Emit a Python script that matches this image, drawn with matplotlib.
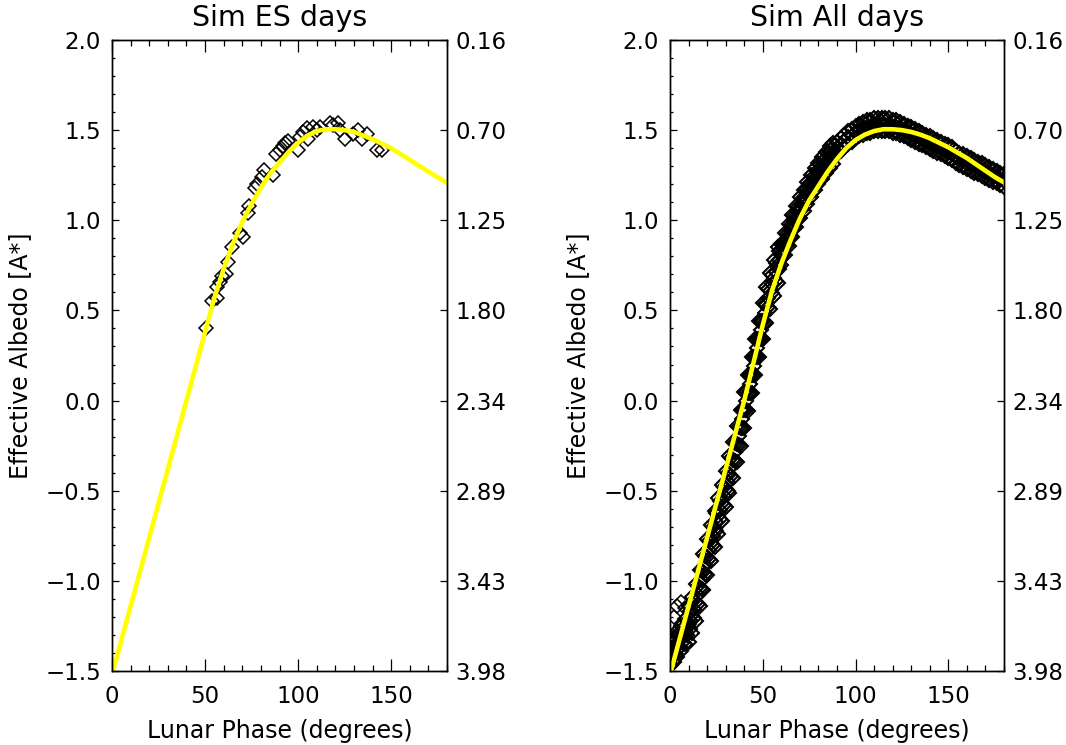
import matplotlib
matplotlib.use('Agg')
import matplotlib.pyplot as plt
from matplotlib.ticker import MultipleLocator

# ---- data ----
# left panel: Earthshine days (diamonds) + fitted curve (yellow)
es_phase = [50.5, 53.5, 56.3, 56.6, 58.0, 59.3, 61.3, 62.5, 64.3, 68.8, 70.2,
            73.3, 73.8, 76.8, 78.1, 80.4, 81.7, 86.7, 88.1, 90.3, 91.7, 93.0,
            94.7, 100.1, 101.0, 102.8, 104.6, 105.5, 108.2, 110.0, 111.8,
            117.1, 118.9, 121.6, 122.5, 125.2, 129.7, 132.4, 134.2, 136.9,
            142.2, 145.0]
es_albedo = [0.40, 0.55, 0.57, 0.63, 0.66, 0.69, 0.70, 0.77, 0.85, 0.93, 0.91,
             1.04, 1.08, 1.18, 1.20, 1.24, 1.28, 1.25, 1.37, 1.39, 1.41, 1.43,
             1.44, 1.39, 1.46, 1.49, 1.51, 1.45, 1.52, 1.50, 1.52,
             1.54, 1.53, 1.54, 1.50, 1.45, 1.48, 1.50, 1.45, 1.48,
             1.39, 1.39]

es_fit_phase = [0, 50, 55, 60, 65, 70, 75, 80, 85, 90, 95, 100, 105, 110, 115,
                120, 125, 130, 135, 140, 145, 150, 160, 170, 180]
es_fit_albedo = [-1.52, 0.38, 0.57, 0.73, 0.87, 0.99, 1.09, 1.18, 1.26, 1.32,
                 1.38, 1.43, 1.47, 1.495, 1.505, 1.505, 1.50, 1.49, 1.47, 1.45,
                 1.425, 1.40, 1.335, 1.27, 1.207]

# right panel: all simulated days, a dense band (upper / middle / lower edge)
all_phase = [0, 2, 4, 6, 8, 10, 12, 14, 16, 18, 20, 22, 24, 26, 28, 30, 32, 34,
             36, 38, 40, 42, 44, 46, 48, 50, 52, 54, 56, 58, 60, 62, 64, 66, 68,
             70, 72, 74, 76, 78, 80, 82, 84, 86, 88, 90, 92, 94, 96, 98, 100,
             102, 104, 106, 108, 110, 112, 114, 116, 118, 120, 122, 124, 126,
             128, 130, 132, 134, 136, 138, 140, 142, 144, 146, 148, 150, 152,
             154, 156, 158, 160, 162, 164, 166, 168, 170, 172, 174, 176, 178, 180]
all_mid = [-1.40, -1.38, -1.35, -1.32, -1.28, -1.24, -1.19, -1.12, -1.04, -0.95,
           -0.87, -0.79, -0.71, -0.64, -0.57, -0.49, -0.41, -0.33, -0.24, -0.15,
           -0.05, 0.04, 0.14, 0.24, 0.34, 0.44, 0.53, 0.61, 0.68, 0.75, 0.81,
           0.87, 0.92, 0.97, 1.02, 1.07, 1.11, 1.15, 1.19, 1.23, 1.26, 1.29,
           1.32, 1.35, 1.37, 1.40, 1.42, 1.44, 1.46, 1.47, 1.49, 1.50, 1.51,
           1.52, 1.52, 1.53, 1.53, 1.53, 1.53, 1.53, 1.52, 1.52, 1.51, 1.50,
           1.49, 1.48, 1.47, 1.46, 1.45, 1.44, 1.43, 1.42, 1.41, 1.40, 1.39,
           1.38, 1.37, 1.35, 1.34, 1.33, 1.32, 1.31, 1.30, 1.29, 1.28, 1.27,
           1.26, 1.25, 1.24, 1.23, 1.22]
all_hi = [-1.33, -1.31, -1.28, -1.25, -1.21, -1.14, -1.09, -1.02, -0.94, -0.85,
          -0.77, -0.69, -0.61, -0.54, -0.47, -0.39, -0.31, -0.23, -0.14, -0.05,
          0.05, 0.14, 0.24, 0.34, 0.44, 0.54, 0.63, 0.71, 0.78, 0.85, 0.87,
          0.93, 0.98, 1.03, 1.08, 1.13, 1.17, 1.21, 1.25, 1.29, 1.32, 1.35,
          1.38, 1.41, 1.43, 1.435, 1.455, 1.475, 1.495, 1.505, 1.525, 1.535,
          1.545, 1.555, 1.555, 1.565, 1.565, 1.565, 1.565, 1.565, 1.555, 1.555,
          1.545, 1.535, 1.525, 1.515, 1.505, 1.495, 1.485, 1.475, 1.465, 1.455,
          1.445, 1.435, 1.425, 1.415, 1.405, 1.385, 1.375, 1.365, 1.355, 1.345,
          1.335, 1.325, 1.315, 1.305, 1.295, 1.285, 1.275, 1.265, 1.255]
all_lo = [-1.47, -1.45, -1.42, -1.39, -1.35, -1.34, -1.29, -1.22, -1.14, -1.05,
          -0.97, -0.89, -0.81, -0.74, -0.67, -0.59, -0.51, -0.43, -0.34, -0.25,
          -0.15, -0.06, 0.04, 0.14, 0.24, 0.34, 0.43, 0.51, 0.58, 0.65, 0.75,
          0.81, 0.86, 0.91, 0.96, 1.01, 1.05, 1.09, 1.13, 1.17, 1.20, 1.23,
          1.26, 1.29, 1.31, 1.365, 1.385, 1.405, 1.425, 1.435, 1.455, 1.465,
          1.475, 1.485, 1.485, 1.495, 1.495, 1.495, 1.495, 1.495, 1.485, 1.485,
          1.475, 1.465, 1.455, 1.445, 1.435, 1.425, 1.415, 1.405, 1.395, 1.385,
          1.375, 1.365, 1.355, 1.345, 1.335, 1.315, 1.305, 1.295, 1.285, 1.275,
          1.265, 1.255, 1.245, 1.235, 1.225, 1.215, 1.205, 1.195, 1.185]

# the steep rising part is sampled at the odd phases as well
odd_phase = [1, 3, 5, 7, 9, 11, 13, 15, 17, 19, 21, 23, 25, 27, 29, 31, 33, 35,
             37, 39, 41, 43, 45, 47, 49, 51, 53, 55, 57, 59, 61, 63, 65, 67, 69,
             71, 73, 75, 77, 79, 81, 83, 85, 87, 89]
odd_mid = [-1.39, -1.365, -1.335, -1.30, -1.26, -1.215, -1.155, -1.08, -0.995,
           -0.91, -0.83, -0.75, -0.675, -0.605, -0.53, -0.45, -0.37, -0.285,
           -0.195, -0.10, -0.005, 0.09, 0.19, 0.29, 0.39, 0.485, 0.57, 0.645,
           0.715, 0.78, 0.84, 0.895, 0.945, 0.995, 1.045, 1.09, 1.13, 1.17,
           1.21, 1.245, 1.275, 1.305, 1.335, 1.36, 1.385]
odd_hi = [-1.35, -1.325, -1.295, -1.26, -1.22, -1.165, -1.105, -1.03, -0.945,
          -0.86, -0.78, -0.70, -0.625, -0.555, -0.48, -0.40, -0.32, -0.235,
          -0.145, -0.05, 0.045, 0.14, 0.24, 0.34, 0.44, 0.535, 0.62, 0.695,
          0.765, 0.83, 0.87, 0.925, 0.975, 1.025, 1.075, 1.12, 1.16, 1.20,
          1.24, 1.275, 1.305, 1.335, 1.365, 1.39, 1.415]
odd_lo = [-1.43, -1.405, -1.375, -1.34, -1.30, -1.265, -1.205, -1.13, -1.045,
          -0.96, -0.88, -0.80, -0.725, -0.655, -0.58, -0.50, -0.42, -0.335,
          -0.245, -0.15, -0.055, 0.04, 0.14, 0.24, 0.34, 0.435, 0.52, 0.595,
          0.665, 0.73, 0.81, 0.865, 0.915, 0.965, 1.015, 1.06, 1.10, 1.14,
          1.18, 1.215, 1.245, 1.275, 1.305, 1.33, 1.355]

# a few stray points near new moon
stray_phase = [2, 4, 6, 8]
stray_albedo = [-1.20, -1.14, -1.12, -1.15]

all_fit_phase = [0, 10, 20, 30, 35, 40, 45, 50, 55, 60, 65, 70, 75, 80, 85, 90,
                 95, 100, 105, 110, 115, 120, 125, 130, 135, 140, 145, 150, 155,
                 160, 165, 170, 175, 180]
all_fit_albedo = [-1.52, -1.14, -0.76, -0.38, -0.19, 0.0, 0.21, 0.42, 0.61, 0.76,
                  0.89, 1.01, 1.11, 1.19, 1.27, 1.34, 1.40, 1.445, 1.475, 1.495,
                  1.505, 1.505, 1.50, 1.49, 1.475, 1.455, 1.43, 1.405, 1.375,
                  1.345, 1.31, 1.275, 1.24, 1.21]

# right-hand axis labels (same positions as the left major ticks)
left_ticks = [-1.5, -1.0, -0.5, 0.0, 0.5, 1.0, 1.5, 2.0]
right_labels = ['3.98', '3.43', '2.89', '2.34', '1.80', '1.25', '0.70', '0.16']

titles = ['Sim ES days', 'Sim All days']

plt.rcParams['font.family'] = ['DejaVu Sans']
FS = 16.5

fig = plt.figure(figsize=(10.66, 7.45), dpi=100)
ax1 = fig.add_axes([112/1066, 1-671/745, 335/1066, 631/745])
ax2 = fig.add_axes([670/1066, 1-671/745, 334/1066, 631/745])

mk = dict(marker='D', ms=7, mfc='none', mec='black', mew=1.1, ls='none')
mk_dense = dict(mk, mew=1.5)

ax1.plot(es_phase, es_albedo, **mk)
ax1.plot(es_fit_phase, es_fit_albedo, color='yellow', lw=3.3)

for a in (all_hi, all_lo, all_mid):
    ax2.plot(all_phase, a, **mk_dense)
for a in (odd_hi, odd_lo, odd_mid):
    ax2.plot(odd_phase, a, **mk_dense)
ax2.plot(stray_phase, stray_albedo, **mk)
ax2.plot(all_fit_phase, all_fit_albedo, color='yellow', lw=3.3)

for ax, t in zip((ax1, ax2), titles):
    ax.set_xlim(0, 180)
    ax.set_ylim(-1.5, 2.0)
    ax.xaxis.set_major_locator(MultipleLocator(50))
    ax.xaxis.set_minor_locator(MultipleLocator(10))
    ax.set_yticks(left_ticks)
    ax.set_yticklabels([('%.1f' % v).replace('-', '\u2212') for v in left_ticks])
    ax.yaxis.set_minor_locator(MultipleLocator(0.1))
    ax.tick_params(axis='x', which='major', direction='in', length=8.6, width=0.9,
                   top=True, labelsize=FS, pad=10)
    ax.tick_params(axis='x', which='minor', direction='in', length=4.3, width=0.9, top=True)
    ax.tick_params(axis='y', which='major', direction='in', length=4.8, width=0.9,
                   right=False, labelsize=FS, pad=8)
    ax.tick_params(axis='y', which='minor', direction='in', length=2.4, width=0.9, right=False)
    for s in ax.spines.values():
        s.set_linewidth(1.0)
    ax.set_title(t, fontsize=20.5, pad=10)
    ax.set_xlabel('Lunar Phase (degrees)', fontsize=17, labelpad=8)
    ax.set_ylabel('Effective Albedo [A*]', fontsize=17)
    ax.yaxis.set_label_coords(-0.24, 0.5)

    rx = ax.twinx()
    rx.set_ylim(-1.5, 2.0)
    rx.set_yticks(left_ticks)
    rx.set_yticklabels(right_labels)
    rx.tick_params(axis='y', direction='in', length=4.8, width=0.9, labelsize=FS, pad=6)
    for s in rx.spines.values():
        s.set_linewidth(1.0)

fig.savefig('out.png', dpi=100)
